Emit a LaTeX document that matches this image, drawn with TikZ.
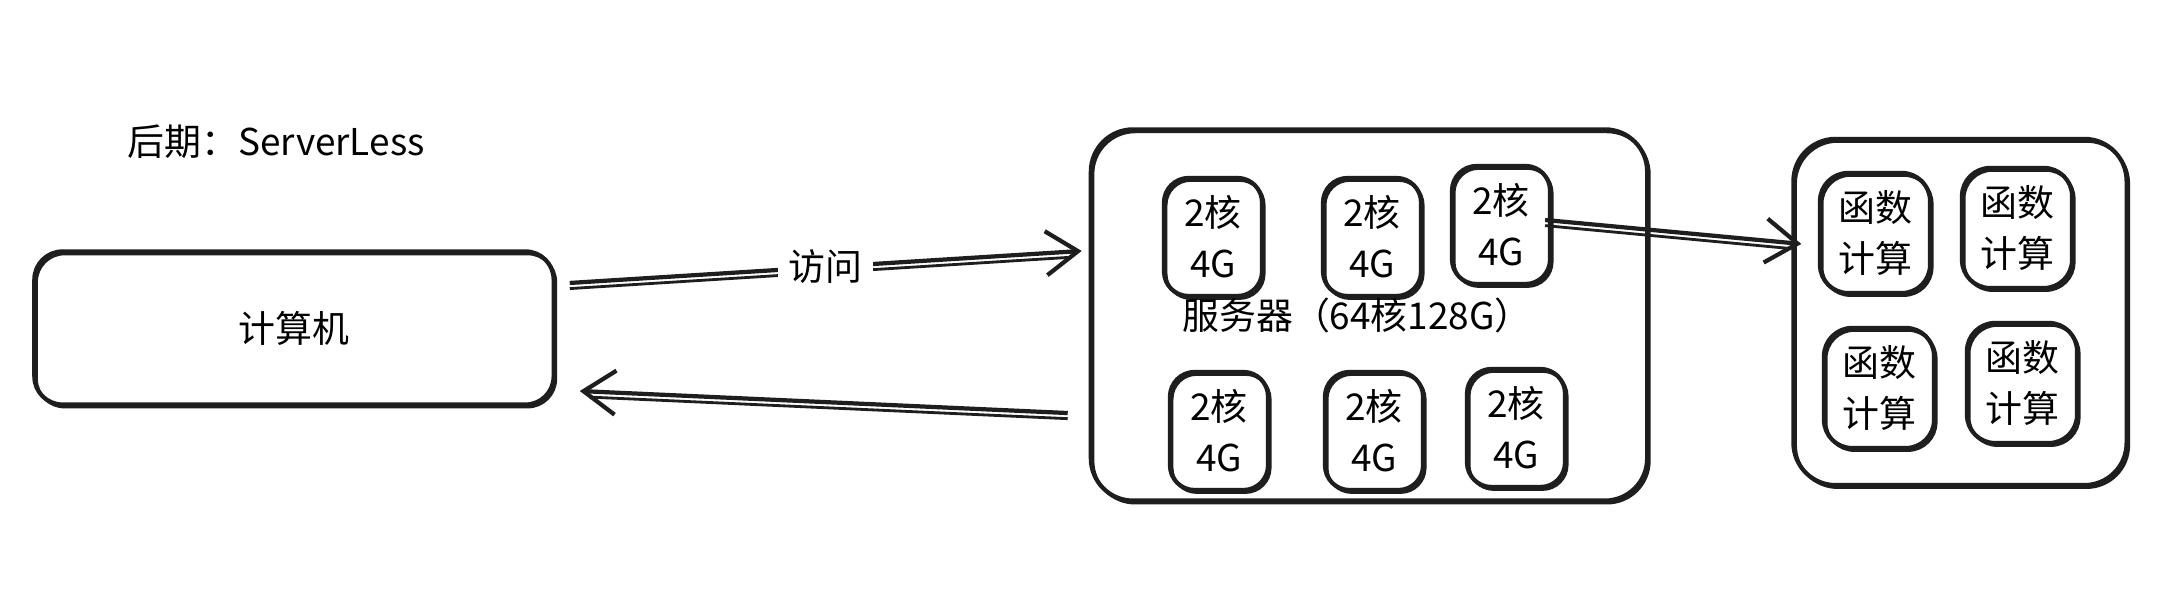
\documentclass[tikz,border=0pt]{standalone}
\usepackage{fontspec}
\setmainfont{Noto Sans CJK SC}
\usetikzlibrary{arrows.meta,positioning,calc}
\definecolor{InkBlack}{RGB}{30,30,30}

\begin{document}
\begin{tikzpicture}[x=0.01cm,y=-0.01cm,
  box/.style={rectangle,draw=InkBlack,line width=1.2pt,rounded corners=8pt,font=\fontsize{10.5}{14.5}\selectfont,align=center,
    preaction={draw=InkBlack,line width=0.8pt,transform canvas={shift={(0.6pt,-0.7pt)}}}},
  core/.style={box,rounded corners=7pt,minimum width=0.98cm,minimum height=1.18cm,inner sep=1pt},
  fn/.style={box,rounded corners=8pt,minimum width=1.1cm,minimum height=1.2cm,inner sep=1pt},
  arr/.style={-{Straight Barb[length=3.2mm,width=4.4mm]},line width=1.2pt,draw=InkBlack,
    preaction={draw=InkBlack,line width=0.8pt,-,shorten >=1mm,transform canvas={shift={(0pt,-1.6pt)}}}}
]
  \useasboundingbox[fill=white] (0,0) rectangle (2184,598);
  \node[font=\fontsize{10.5}{13}\selectfont,inner xsep=0pt] (title) at (276,142) {后期：ServerLess};
  \node[box,minimum width=5.19cm,minimum height=1.53cm] (pc) at (294,328) {计算机};
  \node[box,rounded corners=12pt,minimum width=5.56cm,minimum height=3.71cm] (server) at (1369,315) {};
  \node[box,rounded corners=12pt,minimum width=3.33cm,minimum height=3.46cm] (fbox) at (1960,312) {};
  % cores inside the server
  \node[core] (c1) at (1213,237) {2核\\4G};
  \node[core] (c2) at (1372,237) {2核\\4G};
  \node[core] (c3) at (1501,225) {2核\\4G};
  \node[core] (c4) at (1219,431) {2核\\4G};
  \node[core] (c5) at (1374,431) {2核\\4G};
  \node[core] (c6) at (1516,428) {2核\\4G};
  \node[font=\fontsize{10.5}{13}\selectfont] (slabel) at (1357,315) {服务器（64核128G）};
  % function boxes
  \node[fn] (f1) at (1875,233) {函数\\计算};
  \node[fn] (f2) at (2017,228) {函数\\计算};
  \node[fn] (f3) at (1879,388) {函数\\计算};
  \node[fn] (f4) at (2022,383) {函数\\计算};
  % connectors
  \draw[arr] ([xshift=0.14cm,yshift=0.45cm]pc.east) -- node[fill=white,inner sep=3pt,font=\fontsize{10.5}{13}\selectfont]{访问} ([xshift=-0.07cm,yshift=0.64cm]server.west);
  \draw[arr] ([xshift=-0.21cm,yshift=-0.98cm]server.west) -- ([xshift=0.24cm,yshift=-0.63cm]pc.east);
  \draw[arr] ([xshift=-0.07cm,yshift=0.05cm]c3.east) -- ([xshift=0.1cm,yshift=0.68cm]fbox.west);
\end{tikzpicture}
\end{document}
